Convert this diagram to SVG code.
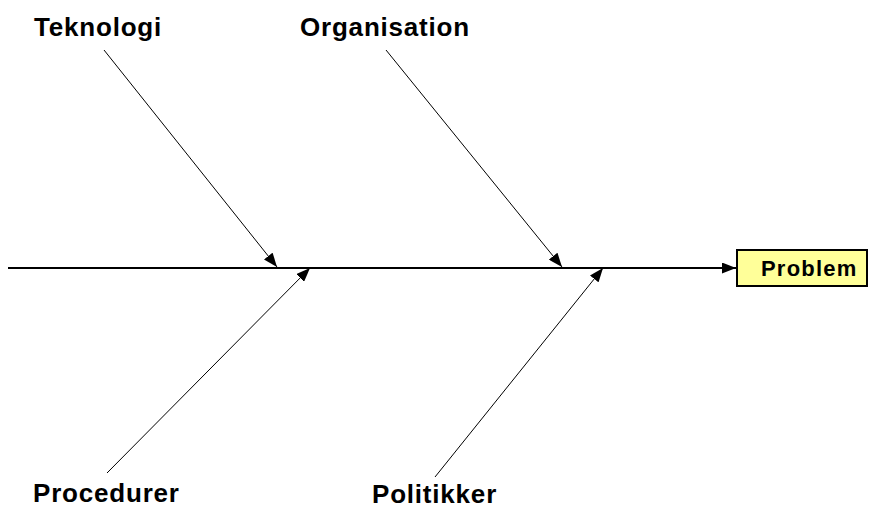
<svg xmlns="http://www.w3.org/2000/svg" width="871" height="508" viewBox="0 0 871 508">
<style>
.lbl{font-family:"Liberation Sans",Arial,sans-serif;font-weight:bold;font-size:26px;fill:#000;letter-spacing:0.8px}
.prob{font-family:"Liberation Sans",Arial,sans-serif;font-weight:bold;font-size:22px;fill:#000;letter-spacing:1.2px}
.ln{stroke:#000;fill:none}
</style>
<defs>
<marker id="ah" markerUnits="userSpaceOnUse" viewBox="0 0 14 11" refX="14" refY="5.5" markerWidth="14" markerHeight="11" orient="auto">
<path d="M0,0 L14,5.5 L0,11 z" fill="#000"/>
</marker>
</defs>
<g id="connectors">
<line class="ln" x1="8" y1="268" x2="736" y2="268" stroke-width="2" marker-end="url(#ah)"/>
<line class="ln" x1="104" y1="50" x2="277" y2="267" stroke-width="1" marker-end="url(#ah)"/>
<line class="ln" x1="386" y1="50" x2="562" y2="267" stroke-width="1" marker-end="url(#ah)"/>
<line class="ln" x1="107" y1="473" x2="310" y2="268" stroke-width="1" marker-end="url(#ah)"/>
<line class="ln" x1="435" y1="477" x2="603" y2="268" stroke-width="1" marker-end="url(#ah)"/>
</g>
<g id="problem">
<rect x="737" y="250" width="130" height="36" fill="#FFFF99" stroke="#000" stroke-width="2"/>
<text class="prob" x="761" y="276">Problem</text>
</g>
<g id="teknologi"><text class="lbl" x="34" y="36">Teknologi</text></g>
<g id="organisation"><text class="lbl" x="300" y="36">Organisation</text></g>
<g id="procedurer"><text class="lbl" x="33" y="502">Procedurer</text></g>
<g id="politikker"><text class="lbl" x="372" y="503">Politikker</text></g>
</svg>
